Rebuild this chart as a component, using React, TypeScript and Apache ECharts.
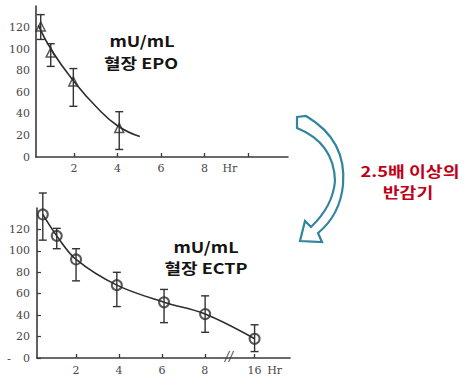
import React, { useEffect, useRef } from 'react';
import * as echarts from 'echarts';

// ---- Data: plasma EPO (top panel) ----
const epoHours = [0.47, 0.93, 1.97, 4.08];
const epoMean = [121, 97, 70, 27];
const epoHigh = [132, 105, 82, 42];
const epoLow = [109, 84, 47, 7];
const epoCurveHours = [0.36, 1, 2, 3, 4, 5.03];
const epoCurveValues = [122, 98, 70, 47, 29, 19];

// ---- Data: plasma ECTP (bottom panel) ----
const ectpHours = [0.45, 1.1, 2, 3.9, 6.1, 8.05, 16];
const ectpMean = [134, 114, 92, 68, 52, 41, 18];
const ectpHigh = [154, 121, 102, 80, 64, 58, 31];
const ectpLow = [110, 102, 72, 48, 33, 24, 6];

// ---- Tick labels ----
const yTickValues = [0, 20, 40, 60, 80, 100, 120];
const epoTickValues = [2, 4, 6, 8, 10];
const epoLabelValues = [2, 4, 6, 8, 9.17];
const epoLabelTexts = ['2', '4', '6', '8', 'Hr'];
const ectpTickHours = [2, 4, 6, 8, 16];
const ectpLabelHours = [2, 4, 6, 8, 16];
const ectpLabelTexts = ['2', '4', '6', '8', '16', 'Hr'];

// broken axis: hours beyond 8 are compressed
const compress = (h: number) => (h <= 8 ? h : 8 + (h - 8) * 0.29);

const ARROW_D =
  'M297 117 L306 116 Q347 140 343 185 Q340 215 318 233 L322 242 L300 241 L305 221 L311 227 Q333 206 335 181 Q334 143 297 128 Z';
echarts.graphic.registerShape('curvedArrow', echarts.graphic.extendPath(ARROW_D, {}));

const pickLabel = (vals: number[], texts: string[]) => (v: number) => {
  let best = 0;
  for (let i = 0; i < vals.length; i++) if (Math.abs(vals[i] - v) < Math.abs(vals[best] - v)) best = i;
  return texts[best];
};

const axisColor = '#3a3a3a';
const labelStyle = { fontFamily: 'DejaVu Serif', fontSize: 11, color: '#474747' };

const errorSeries = (xIdx: number, data: number[][]) => ({
  type: 'custom',
  xAxisIndex: xIdx,
  yAxisIndex: xIdx,
  clip: false,
  z: 3,
  data,
  renderItem: (params: any, api: any) => {
    const x = api.value(0);
    const lo = api.coord([x, api.value(1)]);
    const hi = api.coord([x, api.value(2)]);
    const w = 4;
    const st = { stroke: '#333', lineWidth: 1.4 };
    return {
      type: 'group',
      children: [
        { type: 'line', shape: { x1: lo[0], y1: lo[1], x2: hi[0], y2: hi[1] }, style: st },
        { type: 'line', shape: { x1: lo[0] - w, y1: lo[1], x2: lo[0] + w, y2: lo[1] }, style: st },
        { type: 'line', shape: { x1: hi[0] - w, y1: hi[1], x2: hi[0] + w, y2: hi[1] }, style: st },
      ],
    };
  },
});

export default function App() {
  const ref = useRef<HTMLDivElement>(null);
  useEffect(() => {
    if (!ref.current) return;
    const chart = echarts.init(ref.current, undefined, { renderer: 'svg' });
    const ectpLabelValues = [...ectpLabelHours.map(compress), 11.25];
    const textBase = {
      fontFamily: 'Noto Sans CJK KR',
      fontWeight: 'bold',
      fontSize: 15,
      textAlign: 'center',
      textVerticalAlign: 'middle',
    };
    const option: any = {
      animation: false,
      backgroundColor: '#ffffff',
      grid: [
        { left: 36, top: 6, width: 252, height: 151 },
        { left: 37, top: 208, width: 253, height: 150 },
      ],
      xAxis: [
        {
          type: 'value',
          gridIndex: 0,
          min: 0.253,
          max: 11.84,
          splitLine: { show: false },
          axisLine: { lineStyle: { color: axisColor, width: 1.6 } },
          axisTick: { show: true, inside: true, length: 4, customValues: epoTickValues, lineStyle: { color: axisColor, width: 1.3 } },
          axisLabel: { ...labelStyle, margin: 6, customValues: epoLabelValues, formatter: pickLabel(epoLabelValues, epoLabelTexts) },
        },
        {
          type: 'value',
          gridIndex: 1,
          min: 0.18,
          max: 11.97,
          splitLine: { show: false },
          axisLine: { lineStyle: { color: axisColor, width: 1.6 } },
          axisTick: { show: true, inside: true, length: 4, customValues: ectpTickHours.map(compress), lineStyle: { color: axisColor, width: 1.3 } },
          axisLabel: { ...labelStyle, margin: 7, customValues: ectpLabelValues, formatter: pickLabel(ectpLabelValues, ectpLabelTexts) },
        },
      ],
      yAxis: [
        {
          type: 'value',
          gridIndex: 0,
          min: 0,
          max: 140,
          splitLine: { show: false },
          axisLine: { show: true, lineStyle: { color: axisColor, width: 1.6 } },
          axisTick: { show: false },
          axisLabel: { ...labelStyle, margin: 6, customValues: yTickValues },
        },
        {
          type: 'value',
          gridIndex: 1,
          min: 0,
          max: 140,
          splitLine: { show: false },
          axisLine: { show: true, lineStyle: { color: axisColor, width: 1.6 } },
          axisTick: { show: true, inside: true, length: 4, customValues: yTickValues, lineStyle: { color: axisColor, width: 1.2 } },
          axisLabel: { ...labelStyle, margin: 7, customValues: yTickValues },
        },
      ],
      series: [
        {
          type: 'line',
          xAxisIndex: 0,
          yAxisIndex: 0,
          smooth: true,
          showSymbol: false,
          lineStyle: { color: '#2e2e2e', width: 1.6 },
          data: epoCurveHours.map((h, i) => [h, epoCurveValues[i]]),
        },
        errorSeries(0, epoHours.map((h, i) => [h, epoLow[i], epoHigh[i]])),
        {
          type: 'scatter',
          xAxisIndex: 0,
          yAxisIndex: 0,
          symbol: 'triangle',
          symbolSize: 9,
          z: 4,
          itemStyle: { color: 'rgba(255,255,255,0)', borderColor: '#2e2e2e', borderWidth: 1.5 },
          data: epoHours.map((h, i) => [h, epoMean[i]]),
        },
        {
          type: 'line',
          xAxisIndex: 1,
          yAxisIndex: 1,
          smooth: 0.35,
          showSymbol: false,
          lineStyle: { color: '#2e2e2e', width: 1.6 },
          data: ectpHours.map((h, i) => [compress(h), ectpMean[i]]),
        },
        errorSeries(1, ectpHours.map((h, i) => [compress(h), ectpLow[i], ectpHigh[i]])),
        {
          type: 'scatter',
          xAxisIndex: 1,
          yAxisIndex: 1,
          symbol: 'circle',
          symbolSize: 10,
          z: 4,
          itemStyle: { color: 'rgba(255,255,255,0)', borderColor: '#2e2e2e', borderWidth: 2 },
          data: ectpHours.map((h, i) => [compress(h), ectpMean[i]]),
        },
      ],
      graphic: [
        { type: 'text', x: 142, y: 41, scaleX: 1.2, style: { ...textBase, text: 'mU/mL', fill: '#141414' } },
        { type: 'text', x: 141, y: 63, scaleX: 1.2, style: { ...textBase, text: '혈장 EPO', fill: '#141414' } },
        { type: 'text', x: 206, y: 247, scaleX: 1.2, style: { ...textBase, text: 'mU/mL', fill: '#141414' } },
        { type: 'text', x: 206, y: 268, scaleX: 1.2, style: { ...textBase, text: '혈장 ECTP', fill: '#141414' } },
        { type: 'text', x: 410, y: 171, scaleX: 1.22, style: { ...textBase, text: '2.5배 이상의', fill: '#c00018' } },
        { type: 'text', x: 408, y: 192, scaleX: 1.22, style: { ...textBase, text: '반감기', fill: '#c00018' } },
        { type: 'text', x: 9, y: 358, style: { text: '-', fontFamily: 'DejaVu Sans', fontSize: 11, fill: '#474747', textAlign: 'center', textVerticalAlign: 'middle' } },
        { type: 'text', x: 229, y: 357, style: { text: '//', fontFamily: 'DejaVu Serif', fontStyle: 'italic', fontSize: 12, fill: '#333', backgroundColor: '#fff', textAlign: 'center', textVerticalAlign: 'middle' } },
        { type: 'curvedArrow', x: 0, y: 0, style: { fill: '#ffffff', stroke: '#31859c', lineWidth: 2.2 } },
      ],
    };
    chart.setOption(option);
    return () => chart.dispose();
  }, []);
  return <div ref={ref} style={{ position: 'absolute', left: 0, top: 0, width: 465, height: 379 }} />;
}
